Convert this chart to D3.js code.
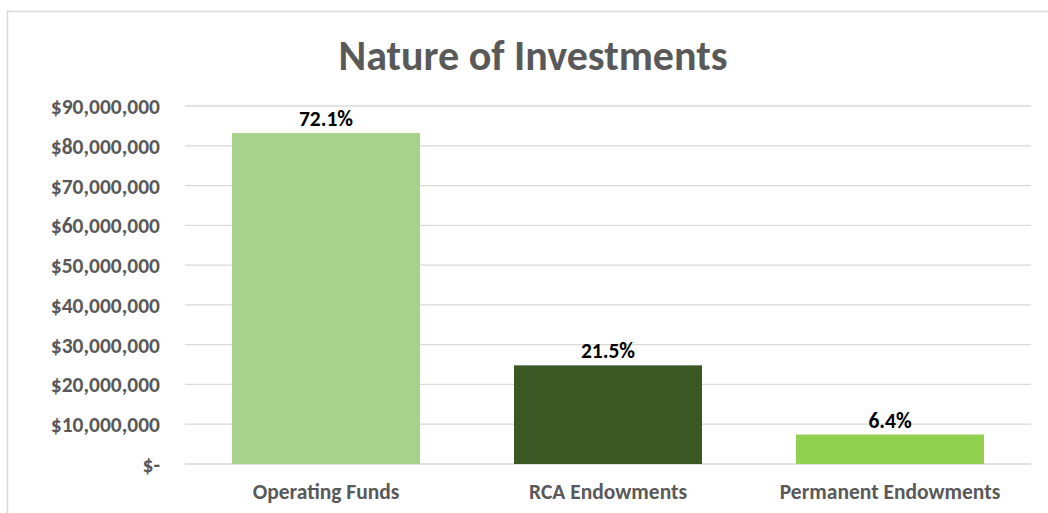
<!DOCTYPE html>
<html>
<head>
  <meta charset="utf-8">
  <title>Nature of Investments</title>
  <script src="https://d3js.org/d3.v7.min.js"></script>
  <style>
    body { margin: 0; background: #fff; }
    text { font-family: Carlito, Calibri, "Liberation Sans", Arial, sans-serif; font-weight: bold; }
    .grid line { stroke: #d9d9d9; stroke-width: 1.3px; }
    .axis text { fill: #595959; font-size: 21.5px; }
  </style>
</head>
<body>
<script>
  // Chart data
  const categories = ["Operating Funds", "RCA Endowments", "Permanent Endowments"];
  const values = [83200000, 24800000, 7400000];
  const shares = ["72.1%", "21.5%", "6.4%"];
  const colors = ["#a9d18e", "#3b5724", "#92d050"];
  const yTicks = [0, 10e6, 20e6, 30e6, 40e6, 50e6, 60e6, 70e6, 80e6, 90e6];

  const width = 1048, height = 513;
  const margin = { top: 106, right: 17, bottom: 49, left: 185 };

  const svg = d3.select("body").append("svg")
      .attr("width", width)
      .attr("height", height);

  // outer chart frame
  svg.append("rect")
      .attr("x", 7.5).attr("y", 11.5)
      .attr("width", width + 20).attr("height", height + 20)
      .attr("fill", "none")
      .attr("stroke", "#d9d9d9")
      .attr("stroke-width", 1.5);

  svg.append("text")
      .attr("x", 533).attr("y", 70)
      .attr("text-anchor", "middle")
      .attr("fill", "#595959")
      .style("font-size", "42px")
      .text("Nature of Investments");

  const x = d3.scaleBand()
      .domain(categories)
      .range([margin.left, width - margin.right])
      .paddingInner(1 / 3)
      .paddingOuter(1 / 6);

  const y = d3.scaleLinear()
      .domain([0, 90e6])
      .range([height - margin.bottom, margin.top]);

  // gridlines
  svg.append("g")
      .attr("class", "grid")
    .selectAll("line")
    .data(yTicks)
    .join("line")
      .attr("x1", margin.left).attr("x2", width - margin.right)
      .attr("y1", d => y(d)).attr("y2", d => y(d));

  const fmt = d => d === 0 ? "$-" : "$" + d3.format(",")(d);

  const yAxis = svg.append("g")
      .attr("class", "axis")
      .attr("transform", `translate(${margin.left - 25},0)`)
      .call(d3.axisLeft(y).tickValues(yTicks).tickFormat(fmt).tickSize(0).tickPadding(0));
  yAxis.select(".domain").remove();
  yAxis.selectAll("text").attr("dy", "0.35em");

  const xAxis = svg.append("g")
      .attr("class", "axis")
      .attr("transform", `translate(0,${height - margin.bottom})`)
      .call(d3.axisBottom(x).tickSize(0).tickPadding(20));
  xAxis.select(".domain").remove();

  // bars
  svg.selectAll(".bar")
    .data(categories)
    .join("rect")
      .attr("class", "bar")
      .attr("x", d => x(d))
      .attr("width", x.bandwidth())
      .attr("y", (d, i) => y(values[i]))
      .attr("height", (d, i) => y(0) - y(values[i]))
      .attr("fill", (d, i) => colors[i]);

  // data labels
  svg.selectAll(".label")
    .data(categories)
    .join("text")
      .attr("class", "label")
      .attr("x", d => x(d) + x.bandwidth() / 2)
      .attr("y", (d, i) => y(values[i]) - 7)
      .attr("text-anchor", "middle")
      .attr("fill", "#000")
      .style("font-size", "21.5px")
      .text((d, i) => shares[i]);
</script>
</body>
</html>
